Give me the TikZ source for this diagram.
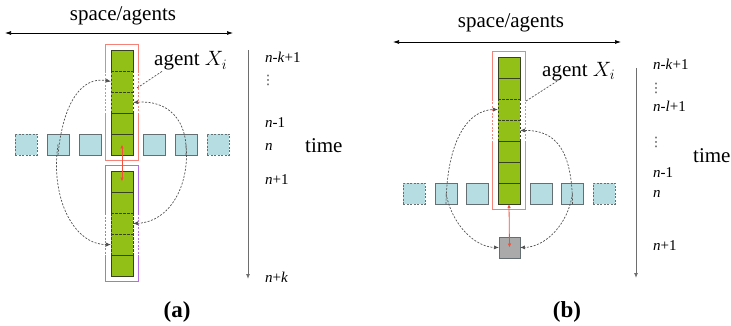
\documentclass[tikz,border=0pt]{standalone}
\usepackage{fontspec}
\setmainfont{Liberation Serif}
\newfontfamily\dotsfont{DejaVu Sans}
\usetikzlibrary{arrows.meta,fit,calc}

\definecolor{leafgreen}{RGB}{146,192,22}
\definecolor{celledge}{RGB}{55,65,35}
\definecolor{paleblue}{RGB}{182,221,226}
\definecolor{sqedge}{RGB}{100,110,115}
\definecolor{framered}{RGB}{244,130,120}
\definecolor{framepurple}{RGB}{180,110,225}
\definecolor{arrowred}{RGB}{240,80,60}
\definecolor{linkgray}{RGB}{80,80,80}
\definecolor{axisgray}{RGB}{110,110,110}
\definecolor{graybox}{RGB}{170,170,170}

\begin{document}
\begin{tikzpicture}[x=1pt,y=-1pt,
  cellfill/.style={rectangle,fill=leafgreen,minimum width=22pt,minimum height=21pt,inner sep=0pt,outer sep=0pt},
  agentsq/.style={rectangle,fill=paleblue,draw=sqedge,line width=0.8pt,minimum width=22pt,minimum height=21pt,inner sep=0pt,outer sep=0pt},
  ghostsq/.style={agentsq,dash pattern=on 2pt off 1.5pt},
  pastsq/.style={rectangle,fill=graybox,draw=sqedge,line width=0.8pt,minimum width=21pt,minimum height=21pt,inner sep=0pt,outer sep=0pt},
  cellline/.style={draw=celledge,line width=0.8pt},
  cellgap/.style={cellline,dash pattern=on 2.5pt off 1.5pt},
  redframe/.style={draw=framered,line width=0.9pt},
  purpleframe/.style={draw=framepurple,line width=0.9pt},
  gapframe/.style={dash pattern=on 2pt off 1.5pt},
  link/.style={draw=linkgray,line width=0.7pt,dash pattern=on 2pt off 1.5pt,-{Latex[length=5pt,width=4pt]}},
  tie/.style={draw=linkgray,line width=0.7pt,dash pattern=on 2pt off 1.5pt},
  redarrow/.style={draw=arrowred,line width=0.8pt,{Latex[length=4pt,width=3.5pt]}-{Latex[length=4pt,width=3.5pt]}},
  timeaxis/.style={draw=axisgray,line width=0.9pt,-{Latex[length=5pt,width=4pt]}},
  spacearrow/.style={draw=black,line width=0.7pt,{Latex[length=6pt,width=4pt]}-{Latex[length=6pt,width=4pt]}},
  tick/.style={font=\fontsize{15}{15}\selectfont,anchor=base west,inner sep=0pt},
  vdot/.style={font=\dotsfont\fontsize{13}{13}\selectfont,anchor=center,inner sep=0pt,text=black!75},
  heading/.style={font=\fontsize{21}{21}\selectfont,inner sep=0pt},
  caption/.style={font=\fontsize{23}{23}\selectfont\bfseries,inner sep=0pt}
]
\useasboundingbox (0,0) rectangle (731,326);

% ---------------- panel (a) ----------------
\node[heading,anchor=base] (spA) at (123,20.5) {space/agents};
\coordinate (spA0) at (5,33);
\coordinate (spA1) at (233,33);
\draw[spacearrow] (spA0) -- (spA1);

% agent column at time n and below
\foreach \k in {1,...,5} { \node[cellfill] (a\k) at (122,{39.5+21*\k}) {}; }
\foreach \k in {1,...,5} { \node[cellfill] (b\k) at (122,{160.5+21*\k}) {}; }

\draw[cellline] (a1.south west) -- (a1.north west) -- (a1.north east) -- (a1.south east);
\draw[cellgap] (a1.south west) -- (a1.south east) (a2.south west) -- (a2.south east)
               (a1.south west) -- (a3.south west) (a1.south east) -- (a3.south east);
\draw[cellline] (a3.south west) rectangle (a5.south east) (a4.south west) -- (a4.south east);

\draw[cellline] (b2.south west) -- (b1.north west) -- (b1.north east) -- (b2.south east)
                (b1.south west) -- (b1.south east);
\draw[cellgap] (b2.south west) -- (b2.south east) (b3.south west) -- (b3.south east)
               (b2.south west) -- (b4.south west) (b2.south east) -- (b4.south east);
\draw[cellline] (b4.south west) rectangle (b5.south east);

\node[fit=(a1)(a5),inner sep=5pt] (frameA) {};
\draw[redframe] (frameA.west |- a1.south) -- (frameA.north west) -- (frameA.north east) -- (frameA.east |- a1.south);
\draw[redframe,gapframe] (frameA.west |- a1.south) -- (frameA.west |- a3.south)
                         (frameA.east |- a1.south) -- (frameA.east |- a3.south);
\draw[redframe] (frameA.west |- a3.south) -- (frameA.south west) -- (frameA.south east) -- (frameA.east |- a3.south);

\node[fit=(b1)(b5),inner sep=5pt] (frameAb) {};
\draw[purpleframe] (frameAb.west |- b2.south) -- (frameAb.north west) -- (frameAb.north east) -- (frameAb.east |- b2.south);
\draw[purpleframe,gapframe] (frameAb.west |- b2.south) -- (frameAb.west |- b4.south)
                            (frameAb.east |- b2.south) -- (frameAb.east |- b4.south);
\draw[purpleframe] (frameAb.west |- b4.south) -- (frameAb.south west) -- (frameAb.south east) -- (frameAb.east |- b4.south);

% neighbouring agents
\node[ghostsq] (sa1) at (26,144.5) {};
\node[agentsq] (sa2) at (58,144.5) {};
\node[agentsq] (sa3) at (90,144.5) {};
\node[agentsq] (sa5) at (154,144.5) {};
\node[agentsq] (sa6) at (186,144.5) {};
\node[ghostsq] (sa7) at (218,144.5) {};

\draw[link] (sa2.south) .. controls (63,102) and (82,76) .. (a2.west);
\draw[link] (sa6.south) .. controls (188,120) and (168,100) .. (a3.east);
\draw[link] (sa2.center) .. controls (50,200) and (75,245) .. (b4.west);
\draw[link] (sa6.center) .. controls (190,185) and (170,222) .. (b3.east);

\draw[redarrow] (a5.center) -- (b1.center);

\node[heading,anchor=base west] (labA) at (154,66) {agent $X_i$};
\coordinate (tieA) at (137,88);
\draw[tie] (tieA) -- ([xshift=9pt]labA.south west);

% time axis (a)
\coordinate (tA0) at (248,50);
\coordinate (tA1) at (248,279);
\draw[timeaxis] (tA0) -- (tA1);
\node[tick] (tA_a) at (265,63) {\textit{n}-\textit{k}+1};
\node[vdot] (tA_b) at (268,80) {⋮};
\node[tick] (tA_c) at (265,128) {\textit{n}-1};
\node[tick] (tA_d) at (265,151) {\textit{n}};
\node[tick] (tA_e) at (265,185) {\textit{n}+1};
\node[tick] (tA_f) at (265,282) {\textit{n}+\textit{k}};
\node[heading,anchor=base west] (timeA) at (305,153) {time};

\node[caption] (capA) at (177,312) {(a)};

% ---------------- panel (b) ----------------
\node[heading,anchor=base] (spB) at (511,27.5) {space/agents};
\coordinate (spB0) at (393,42);
\coordinate (spB1) at (621,42);
\draw[spacearrow] (spB0) -- (spB1);

\foreach \k in {1,...,7} { \node[cellfill] (c\k) at (509,{46.5+21*\k}) {}; }

\draw[cellline] (c2.south west) -- (c1.north west) -- (c1.north east) -- (c2.south east)
                (c1.south west) -- (c1.south east);
\draw[cellgap] (c2.south west) -- (c2.south east) (c3.south west) -- (c3.south east)
               (c2.south west) -- (c4.south west) (c2.south east) -- (c4.south east);
\draw[cellline] (c4.south west) rectangle (c7.south east)
                (c5.south west) -- (c5.south east) (c6.south west) -- (c6.south east);

\node[fit=(c1)(c7),inner sep=5.5pt] (frameB) {};
\draw[redframe] (frameB.west |- c2.south) -- (frameB.north west) -- (frameB.north east) -- (frameB.east |- c2.south);
\draw[redframe,gapframe] (frameB.west |- c2.south) -- (frameB.west |- c4.south)
                         (frameB.east |- c2.south) -- (frameB.east |- c4.south);
\draw[redframe] (frameB.west |- c4.south) -- (frameB.south west) -- (frameB.south east) -- (frameB.east |- c4.south);

\node[ghostsq] (sb1) at (414,193.5) {};
\node[agentsq] (sb2) at (446,193.5) {};
\node[agentsq] (sb3) at (477.5,193.5) {};
\node[agentsq] (sb5) at (541,193.5) {};
\node[agentsq] (sb6) at (572.5,193.5) {};
\node[ghostsq] (sb7) at (604,193.5) {};

\node[pastsq] (past) at (509.5,247.5) {};

\draw[link] (sb2.south) .. controls (447,140) and (468,110) .. (c3.west);
\draw[link] (sb6.south) .. controls (572,150) and (556,130) .. (c4.east);
\draw[link] (sb2.center) .. controls (452,225) and (475,247) .. (past.west);
\draw[link] (sb6.center) .. controls (568,225) and (545,247) .. (past.east);

\draw[redarrow] (c7.south) -- (past.center);

\node[heading,anchor=base west] (labB) at (542,76.5) {agent $X_i$};
\coordinate (tieB) at (526,101);
\draw[tie] (tieB) -- ([xshift=15pt]labB.south west);

% time axis (b)
\coordinate (tB0) at (636,68);
\coordinate (tB1) at (636,278);
\draw[timeaxis] (tB0) -- (tB1);
\node[tick] (tB_a) at (653,70) {\textit{n}-\textit{k}+1};
\node[vdot] (tB_b) at (656,88) {⋮};
\node[tick] (tB_c) at (653,112) {\textit{n}-\textit{l}+1};
\node[vdot] (tB_d) at (656,142) {⋮};
\node[tick] (tB_e) at (653,177) {\textit{n}-1};
\node[tick] (tB_f) at (653,197) {\textit{n}};
\node[tick] (tB_g) at (653,250) {\textit{n}+1};
\node[heading,anchor=base west] (timeB) at (693,162) {time};

\node[caption] (capB) at (567,312) {(b)};
\end{tikzpicture}
\end{document}
